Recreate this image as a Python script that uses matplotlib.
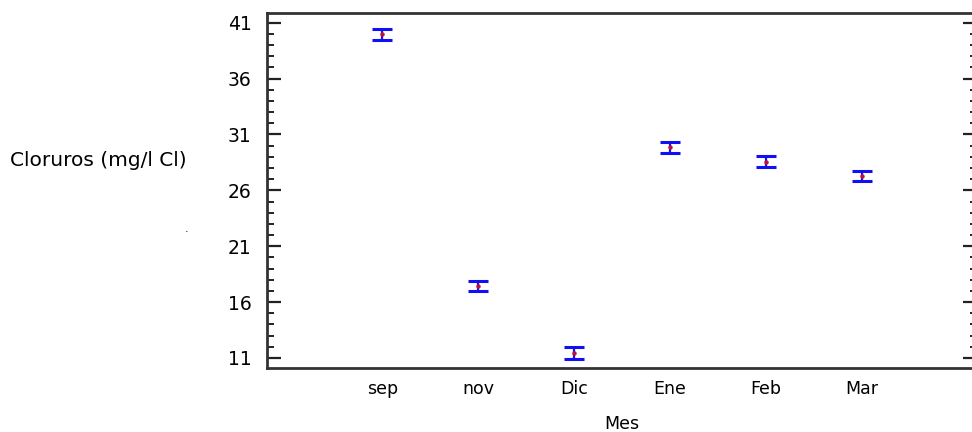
import matplotlib
matplotlib.use("Agg")
import matplotlib.pyplot as plt
from matplotlib.ticker import MultipleLocator

# data
meses = ["sep", "nov", "Dic", "Ene", "Feb", "Mar"]
medias = [39.96, 17.45, 11.46, 29.84, 28.56, 27.30]
errores = [0.49, 0.48, 0.55, 0.47, 0.47, 0.47]
yticks = [11, 16, 21, 26, 31, 36, 41]

plt.rcParams['font.family'] = ['DejaVu Sans']

fig = plt.figure(figsize=(9.72, 4.32), dpi=100)
ax = fig.add_axes([267/972, 1 - 368/432, (977 - 267)/972, (368 - 13)/432])

pos = list(range(1, len(meses) + 1))
ax.errorbar(pos, medias, yerr=errores, fmt='none', ecolor='#1010f0',
            elinewidth=1.6, capsize=7.5, capthick=2.2, zorder=3)
ax.plot(pos, medias, linestyle='none', marker='o', markersize=2.2,
        color='#c0103a', zorder=4)

ax.set_xlim(-0.2, 7.2)
ax.set_ylim(10.1, 41.87)
ax.set_xticks(pos)
ax.set_xticklabels(meses, fontsize=12.5)
ax.set_yticks(yticks)
ax.set_yticklabels([str(v) for v in yticks], fontsize=13.5)
ax.yaxis.set_minor_locator(MultipleLocator(1))

ax.tick_params(axis='x', length=0, pad=9)
ax.tick_params(axis='y', which='major', direction='in', length=10, width=1.6,
               color='#222222', right=True, pad=11)
ax.tick_params(axis='y', which='minor', direction='in', length=5, width=1.4,
               color='#222222', right=True)

for s in ['left', 'top', 'bottom', 'right']:
    ax.spines[s].set_linewidth(2)
    ax.spines[s].set_color('#333333')

ax.set_xlabel("Mes", fontsize=12.5, labelpad=12)
fig.text(10/972, 1 - 160/432, "Cloruros (mg/l Cl)", fontsize=14.5,
         ha='left', va='center')
fig.text(187/972, 1 - 234/432, ".", fontsize=8, ha='center', va='bottom')

fig.savefig("out.png", dpi=100)
